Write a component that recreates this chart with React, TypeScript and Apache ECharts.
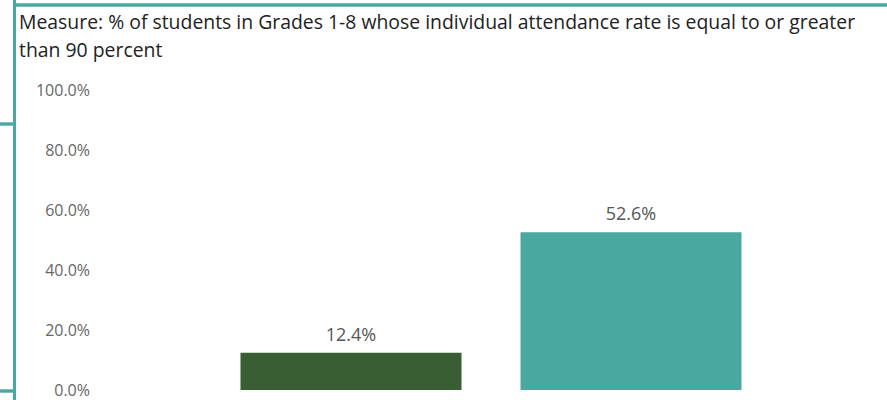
import React, { useEffect, useRef } from "react";
import * as echarts from "echarts";

const categories = ["A", "B"];
const values = [12.4, 52.6];
const barColors = ["#3a5e33", "#4aa8a3"];
const yTicks = [0, 20, 40, 60, 80, 100];
const titleLines = [
  "Measure: % of students in Grades 1-8 whose individual attendance rate is equal to or greater",
  "than 90 percent",
];

export default function App() {
  const ref = useRef<HTMLDivElement>(null);
  useEffect(() => {
    if (!ref.current) return;
    const chart = echarts.init(ref.current, null, { renderer: "svg" });
    const teal = "#4aa8a3";
    chart.setOption({
      animation: false,
      backgroundColor: "#ffffff",
      grid: { left: 211, right: 887 - 771, top: 90, bottom: 10, containLabel: false },
      xAxis: {
        type: "category",
        data: categories,
        axisLine: { show: false },
        axisTick: { show: false },
        axisLabel: { show: false },
      },
      yAxis: {
        type: "value",
        min: yTicks[0],
        max: yTicks[yTicks.length - 1],
        interval: 20,
        splitLine: { show: false },
        axisLine: { show: false },
        axisTick: { show: false },
        axisLabel: {
          margin: 121,
          color: "#666666",
          fontFamily: "Open Sans",
          fontSize: 16,
          formatter: (v: number) => v.toFixed(1) + "%",
        },
      },
      series: [
        {
          type: "bar",
          data: values.map((v, i) => ({ value: v, itemStyle: { color: barColors[i] } })),
          barWidth: 221,
          label: {
            show: true,
            position: "top",
            distance: 10,
            color: "#555555",
            fontFamily: "Open Sans",
            fontSize: 18,
            formatter: (p: any) => p.value.toFixed(1) + "%",
          },
        },
      ],
      graphic: [
        { type: "line", shape: { x1: 14.5, y1: 0, x2: 14.5, y2: 400 }, style: { stroke: teal, lineWidth: 3 } },
        { type: "line", shape: { x1: 14.5, y1: 5, x2: 887, y2: 5 }, style: { stroke: teal, lineWidth: 3.4 } },
        { type: "line", shape: { x1: 0, y1: 124, x2: 14.5, y2: 124 }, style: { stroke: teal, lineWidth: 3.4 } },
        { type: "line", shape: { x1: 0, y1: 391, x2: 14.5, y2: 391 }, style: { stroke: teal, lineWidth: 3.4 } },
        ...titleLines.map((t, i) => ({
          type: "text",
          x: 19,
          y: 21 + i * 28,
          style: {
            text: t,
            fill: "#222222",
            fontFamily: "Open Sans",
            fontSize: 19.4,
            verticalAlign: "middle",
          },
        })),
      ],
    });
    return () => chart.dispose();
  }, []);
  return (
    <div
      ref={ref}
      style={{ position: "fixed", left: 0, top: 0, width: 887, height: 400 }}
    />
  );
}
